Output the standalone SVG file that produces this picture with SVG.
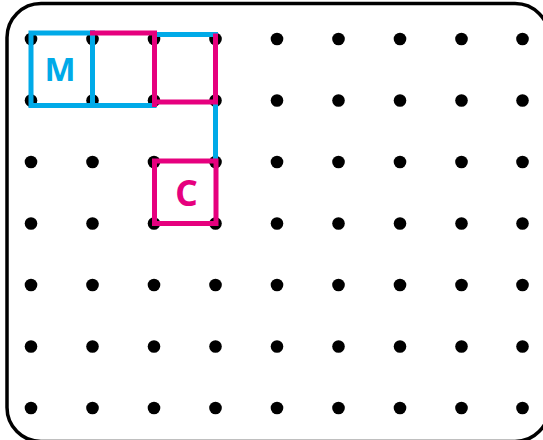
<svg xmlns="http://www.w3.org/2000/svg" width="543" height="440" viewBox="0 0 543 440">
<style>
.border{fill:#fff;stroke:#000;stroke-width:3.5}
.dot{fill:#000}
.blue{fill:none;stroke:#00aae8;stroke-width:5;stroke-linecap:square}
.mag{fill:none;stroke:#e6007e;stroke-width:5;stroke-linecap:square}
.lbl{font-family:"Noto Sans","DejaVu Sans",sans-serif;font-weight:bold;text-anchor:middle}
</style>
<defs>
<circle id="d" r="6.3" class="dot"/>
</defs>
<rect class="border" x="7" y="3.5" width="542" height="438" rx="34"/>
<g id="dots">
<use href="#d" x="31" y="39"/><use href="#d" x="92.5" y="39"/><use href="#d" x="154" y="39"/><use href="#d" x="215.5" y="39"/><use href="#d" x="277" y="39"/><use href="#d" x="338.5" y="39"/><use href="#d" x="400" y="39"/><use href="#d" x="461.5" y="39"/><use href="#d" x="522.5" y="39"/>
<use href="#d" x="31" y="100.5"/><use href="#d" x="92.5" y="100.5"/><use href="#d" x="154" y="100.5"/><use href="#d" x="215.5" y="100.5"/><use href="#d" x="277" y="100.5"/><use href="#d" x="338.5" y="100.5"/><use href="#d" x="400" y="100.5"/><use href="#d" x="461.5" y="100.5"/><use href="#d" x="522.5" y="100.5"/>
<use href="#d" x="31" y="162"/><use href="#d" x="92.5" y="162"/><use href="#d" x="154" y="162"/><use href="#d" x="215.5" y="162"/><use href="#d" x="277" y="162"/><use href="#d" x="338.5" y="162"/><use href="#d" x="400" y="162"/><use href="#d" x="461.5" y="162"/><use href="#d" x="522.5" y="162"/>
<use href="#d" x="31" y="223.5"/><use href="#d" x="92.5" y="223.5"/><use href="#d" x="154" y="223.5"/><use href="#d" x="215.5" y="223.5"/><use href="#d" x="277" y="223.5"/><use href="#d" x="338.5" y="223.5"/><use href="#d" x="400" y="223.5"/><use href="#d" x="461.5" y="223.5"/><use href="#d" x="522.5" y="223.5"/>
<use href="#d" x="31" y="285"/><use href="#d" x="92.5" y="285"/><use href="#d" x="154" y="285"/><use href="#d" x="215.5" y="285"/><use href="#d" x="277" y="285"/><use href="#d" x="338.5" y="285"/><use href="#d" x="400" y="285"/><use href="#d" x="461.5" y="285"/><use href="#d" x="522.5" y="285"/>
<use href="#d" x="31" y="346.5"/><use href="#d" x="92.5" y="346.5"/><use href="#d" x="154" y="346.5"/><use href="#d" x="215.5" y="346.5"/><use href="#d" x="277" y="346.5"/><use href="#d" x="338.5" y="346.5"/><use href="#d" x="400" y="346.5"/><use href="#d" x="461.5" y="346.5"/><use href="#d" x="522.5" y="346.5"/>
<use href="#d" x="31" y="408"/><use href="#d" x="92.5" y="408"/><use href="#d" x="154" y="408"/><use href="#d" x="215.5" y="408"/><use href="#d" x="277" y="408"/><use href="#d" x="338.5" y="408"/><use href="#d" x="400" y="408"/><use href="#d" x="461.5" y="408"/><use href="#d" x="522.5" y="408"/>
</g>
<g id="connectors">
<path class="blue" d="M154.5,34.5 H215.5 V160"/>
<path class="blue" d="M92.5,33 H31 V105.5 H154"/>
<path class="blue" d="M92.5,33 V105.5"/>
<path class="mag" d="M92.5,33 H154.5 V104.5"/>
<path class="mag" d="M154.5,102 H215.5 V36"/>
</g>
<g id="node-M">
<text class="lbl" x="60" y="80.5" font-size="33" fill="#00aae8">M</text>
</g>
<g id="node-C">
<rect class="mag" x="154.5" y="161" width="61.5" height="62.5"/>
<text class="lbl" x="186.5" y="205.5" font-size="35" fill="#e6007e">C</text>
</g>
</svg>
